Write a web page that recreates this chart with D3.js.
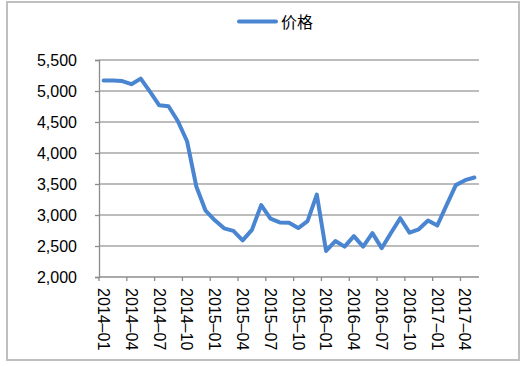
<!DOCTYPE html>
<meta charset="utf-8">
<style>
body { margin: 0; background: #fff; }
text { font-family: "Liberation Sans", Arial, sans-serif; fill: #000; }
</style>
<body>
<script src="https://cdn.jsdelivr.net/npm/d3@7"></script>
<script>
// 月份 2014-01 .. 2017-05
var months = [];
for (var y = 2014; y <= 2017; y++) {
  for (var m = 1; m <= 12; m++) {
    if (y == 2017 && m > 5) break;
    months.push(y + "–" + (m < 10 ? "0" + m : m));
  }
}
var price = [5170, 5170, 5160, 5110, 5200, 4990, 4770, 4755, 4516, 4190,
             3460, 3070, 2915, 2785, 2745, 2592, 2760, 3160, 2940, 2880,
             2875, 2790, 2900, 3330, 2420, 2580, 2490, 2660, 2490, 2708,
             2465, 2710, 2948, 2715, 2770, 2910, 2830, 3160, 3482, 3562, 3605];
var yTicks = [2000, 2500, 3000, 3500, 4000, 4500, 5000, 5500];
var seriesName = "价格";

var W = 524, H = 366;
var svg = d3.select("body").append("svg")
    .attr("width", W)
    .attr("height", H);

// outer frame
svg.append("rect")
    .attr("x", 7).attr("y", 2)
    .attr("width", 512).attr("height", 358)
    .attr("fill", "none")
    .attr("stroke", "#bfbfbf")
    .attr("stroke-width", 2);

var pLeft = 99, pRight = 479, pTop = 60, pBottom = 277;

var x = d3.scaleBand().domain(months).range([pLeft, pRight]).padding(0);
var yS = d3.scaleLinear().domain([2000, 5500]).range([pBottom, pTop]);

// gridlines
svg.append("g")
  .selectAll("line")
  .data(yTicks.slice(1))
  .enter().append("line")
    .attr("x1", pLeft).attr("x2", pRight)
    .attr("y1", function(d) { return yS(d); })
    .attr("y2", function(d) { return yS(d); })
    .attr("stroke", "#a6a6a6")
    .attr("stroke-width", 1.3);

// y axis
var yAxis = svg.append("g")
    .attr("transform", "translate(" + pLeft + ",0)")
    .call(d3.axisLeft(yS).tickValues(yTicks).tickSize(4).tickPadding(18)
          .tickFormat(d3.format(",")));
yAxis.select(".domain").attr("stroke", "#8c8c8c").attr("stroke-width", 1.3);
yAxis.selectAll(".tick line").attr("stroke", "#8c8c8c").attr("stroke-width", 1.3);
yAxis.selectAll("text")
    .style("font-size", "16px")
    .attr("fill", "#000");

// x axis: ticks at boundaries every 3 months
var xg = svg.append("g");
xg.append("line")
    .attr("x1", pLeft).attr("x2", pRight)
    .attr("y1", pBottom).attr("y2", pBottom)
    .attr("stroke", "#8c8c8c").attr("stroke-width", 1.3);
var tickMonths = months.filter(function(d, i) { return i % 3 == 0; });
xg.selectAll(".xt")
  .data(tickMonths)
  .enter().append("line")
    .attr("class", "xt")
    .attr("x1", function(d) { return x(d); })
    .attr("x2", function(d) { return x(d); })
    .attr("y1", pBottom).attr("y2", pBottom + 4)
    .attr("stroke", "#8c8c8c").attr("stroke-width", 1.3);
xg.selectAll(".xl")
  .data(tickMonths)
  .enter().append("text")
    .attr("class", "xl")
    .attr("transform", function(d) {
      return "translate(" + (x(d) + x.bandwidth() / 2) + "," + (pBottom + 11) + ") rotate(90)";
    })
    .attr("dy", "0.35em")
    .attr("text-anchor", "start")
    .style("font-size", "16px")
    .text(function(d) { return d; });

// line
var line = d3.line()
    .x(function(d, i) { return x(months[i]) + x.bandwidth() / 2; })
    .y(function(d) { return yS(d); });
svg.append("path")
    .datum(price)
    .attr("d", line)
    .attr("fill", "none")
    .attr("stroke", "#4a85d1")
    .attr("stroke-width", 4)
    .attr("stroke-linejoin", "round")
    .attr("stroke-linecap", "round");

// legend
svg.append("line")
    .attr("x1", 239).attr("x2", 276)
    .attr("y1", 21.5).attr("y2", 21.5)
    .attr("stroke", "#4a85d1")
    .attr("stroke-width", 4)
    .attr("stroke-linecap", "round");
svg.append("text")
    .attr("x", 281).attr("y", 22)
    .attr("dy", "0.35em")
    .style("font-family", "'Noto Sans CJK SC', sans-serif")
    .style("font-size", "16px")
    .text(seriesName);
</script>
